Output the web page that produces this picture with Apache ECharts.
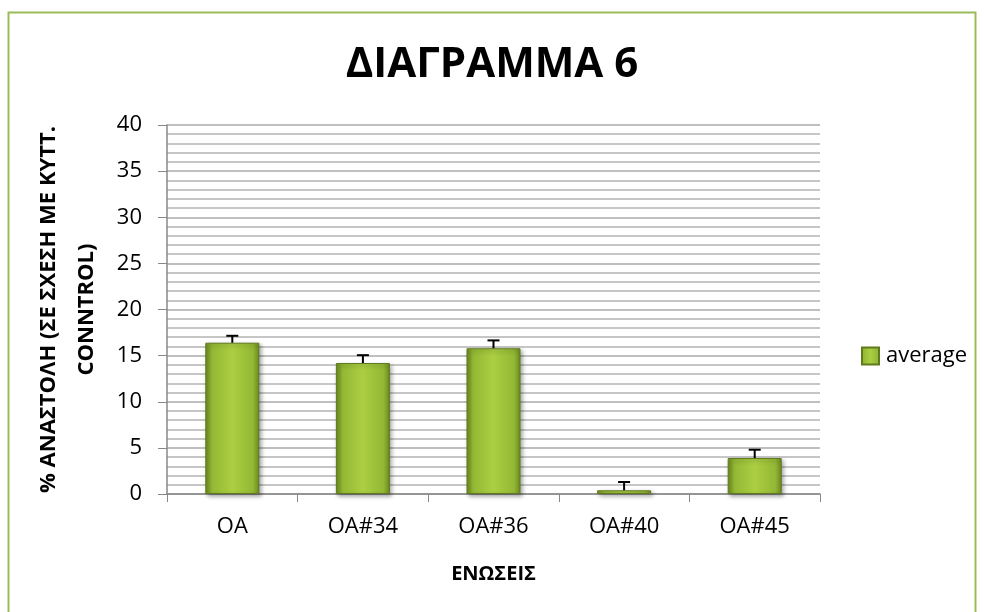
<!DOCTYPE html>
<html>
<head>
<meta charset="utf-8">
<script src="https://cdn.jsdelivr.net/npm/echarts@6/dist/echarts.min.js"></script>
<style>
  html, body { margin: 0; padding: 0; background: #fff; }
  #main { width: 984px; height: 612px; }
</style>
</head>
<body>
<div id="main"></div>
<script>
var categories = ['OA', 'OA#34', 'OA#36', 'OA#40', 'OA#45'];
var average = [16.4, 14.2, 15.8, 0.4, 3.9];
var errors = [0.75, 0.85, 0.85, 0.9, 0.9];
var yTicks = [0, 5, 10, 15, 20, 25, 30, 35, 40];

var font = '"Open Sans", "Noto Sans", sans-serif';

// bar fill: dark edges, lime centre
var barColor = {
  type: 'linear', x: 0, y: 0, x2: 1, y2: 0,
  colorStops: [
    { offset: 0, color: '#6b8b20' },
    { offset: 0.12, color: '#93b834' },
    { offset: 0.5, color: '#abce42' },
    { offset: 0.88, color: '#93b834' },
    { offset: 1, color: '#6b8b20' }
  ]
};

var myChart = echarts.init(document.getElementById('main'));
var option = {
  backgroundColor: '#fff',
  animation: false,
  graphic: [{
    type: 'rect',
    shape: { x: 8.5, y: 12.5, width: 967, height: 640 },
    style: { fill: 'none', stroke: '#9bbb59', lineWidth: 2 }
  }],
  title: {
    text: 'ΔΙΑΓΡΑΜΜΑ 6',
    left: 'center',
    top: 39,
    textStyle: { fontFamily: font, fontSize: 42, fontWeight: 'bold', color: '#000' }
  },
  legend: {
    data: [{ name: 'average', icon: 'rect' }],
    orient: 'vertical',
    left: 856,
    top: 340,
    itemWidth: 17,
    itemHeight: 17,
    itemGap: 7,
    textStyle: { fontFamily: font, fontSize: 22, color: '#000', padding: [0, 0, 0, 2] }
  },
  grid: { left: 167, top: 125, width: 653, height: 369, containLabel: false },
  xAxis: {
    type: 'category',
    data: categories,
    name: 'ΕΝΩΣΕΙΣ',
    nameLocation: 'middle',
    nameGap: 70,
    nameTextStyle: { fontFamily: font, fontSize: 20, fontWeight: 'bold', color: '#000' },
    axisLine: { lineStyle: { color: '#888', width: 1.5 } },
    axisTick: { show: true, alignWithLabel: false, length: 8, lineStyle: { color: '#888' } },
    axisLabel: { fontFamily: font, fontSize: 22, color: '#000', margin: 22 }
  },
  yAxis: {
    type: 'value',
    min: yTicks[0],
    max: yTicks[yTicks.length - 1],
    interval: 5,
    name: '% ΑΝΑΣΤΟΛΗ (ΣΕ ΣΧΕΣΗ ΜΕ ΚΥΤΤ.\nCONNTROL)',
    nameLocation: 'middle',
    nameGap: 54,
    nameTextStyle: { fontFamily: font, fontSize: 22, fontWeight: 'bold', color: '#000', lineHeight: 38 },
    axisLine: { show: true, lineStyle: { color: '#888', width: 1.5 } },
    axisTick: { show: true, length: 9, lineStyle: { color: '#888' } },
    axisLabel: { fontFamily: font, fontSize: 22, color: '#000', margin: 25 },
    splitLine: { show: true, lineStyle: { color: '#aaa', width: 1.5 } },
    minorTick: { show: false, splitNumber: 5 },
    minorSplitLine: { show: true, lineStyle: { color: '#b4b4b4', width: 1.5 } }
  },
  series: [{
    name: 'average',
    type: 'bar',
    data: average,
    barWidth: 54,
    itemStyle: {
      color: barColor,
      borderColor: '#5f7a1e',
      borderWidth: 1,
      shadowColor: 'rgba(0,0,0,0.35)',
      shadowBlur: 4,
      shadowOffsetX: 2,
      shadowOffsetY: 2
    },
    z: 2
  }, {
    name: 'error',
    type: 'custom',
    data: average.map(function (v, i) { return [i, v, v + errors[i]]; }),
    renderItem: function (params, api) {
      var lo = api.coord([api.value(0), api.value(1)]);
      var hi = api.coord([api.value(0), api.value(2)]);
      var half = 6;
      return {
        type: 'group',
        children: [{
          type: 'line',
          shape: { x1: lo[0], y1: lo[1], x2: hi[0], y2: hi[1] },
          style: { stroke: '#000', lineWidth: 2 }
        }, {
          type: 'line',
          shape: { x1: hi[0] - half, y1: hi[1], x2: hi[0] + half, y2: hi[1] },
          style: { stroke: '#000', lineWidth: 2 }
        }]
      };
    },
    z: 3
  }]
};
myChart.setOption(option);
</script>
</body>
</html>
